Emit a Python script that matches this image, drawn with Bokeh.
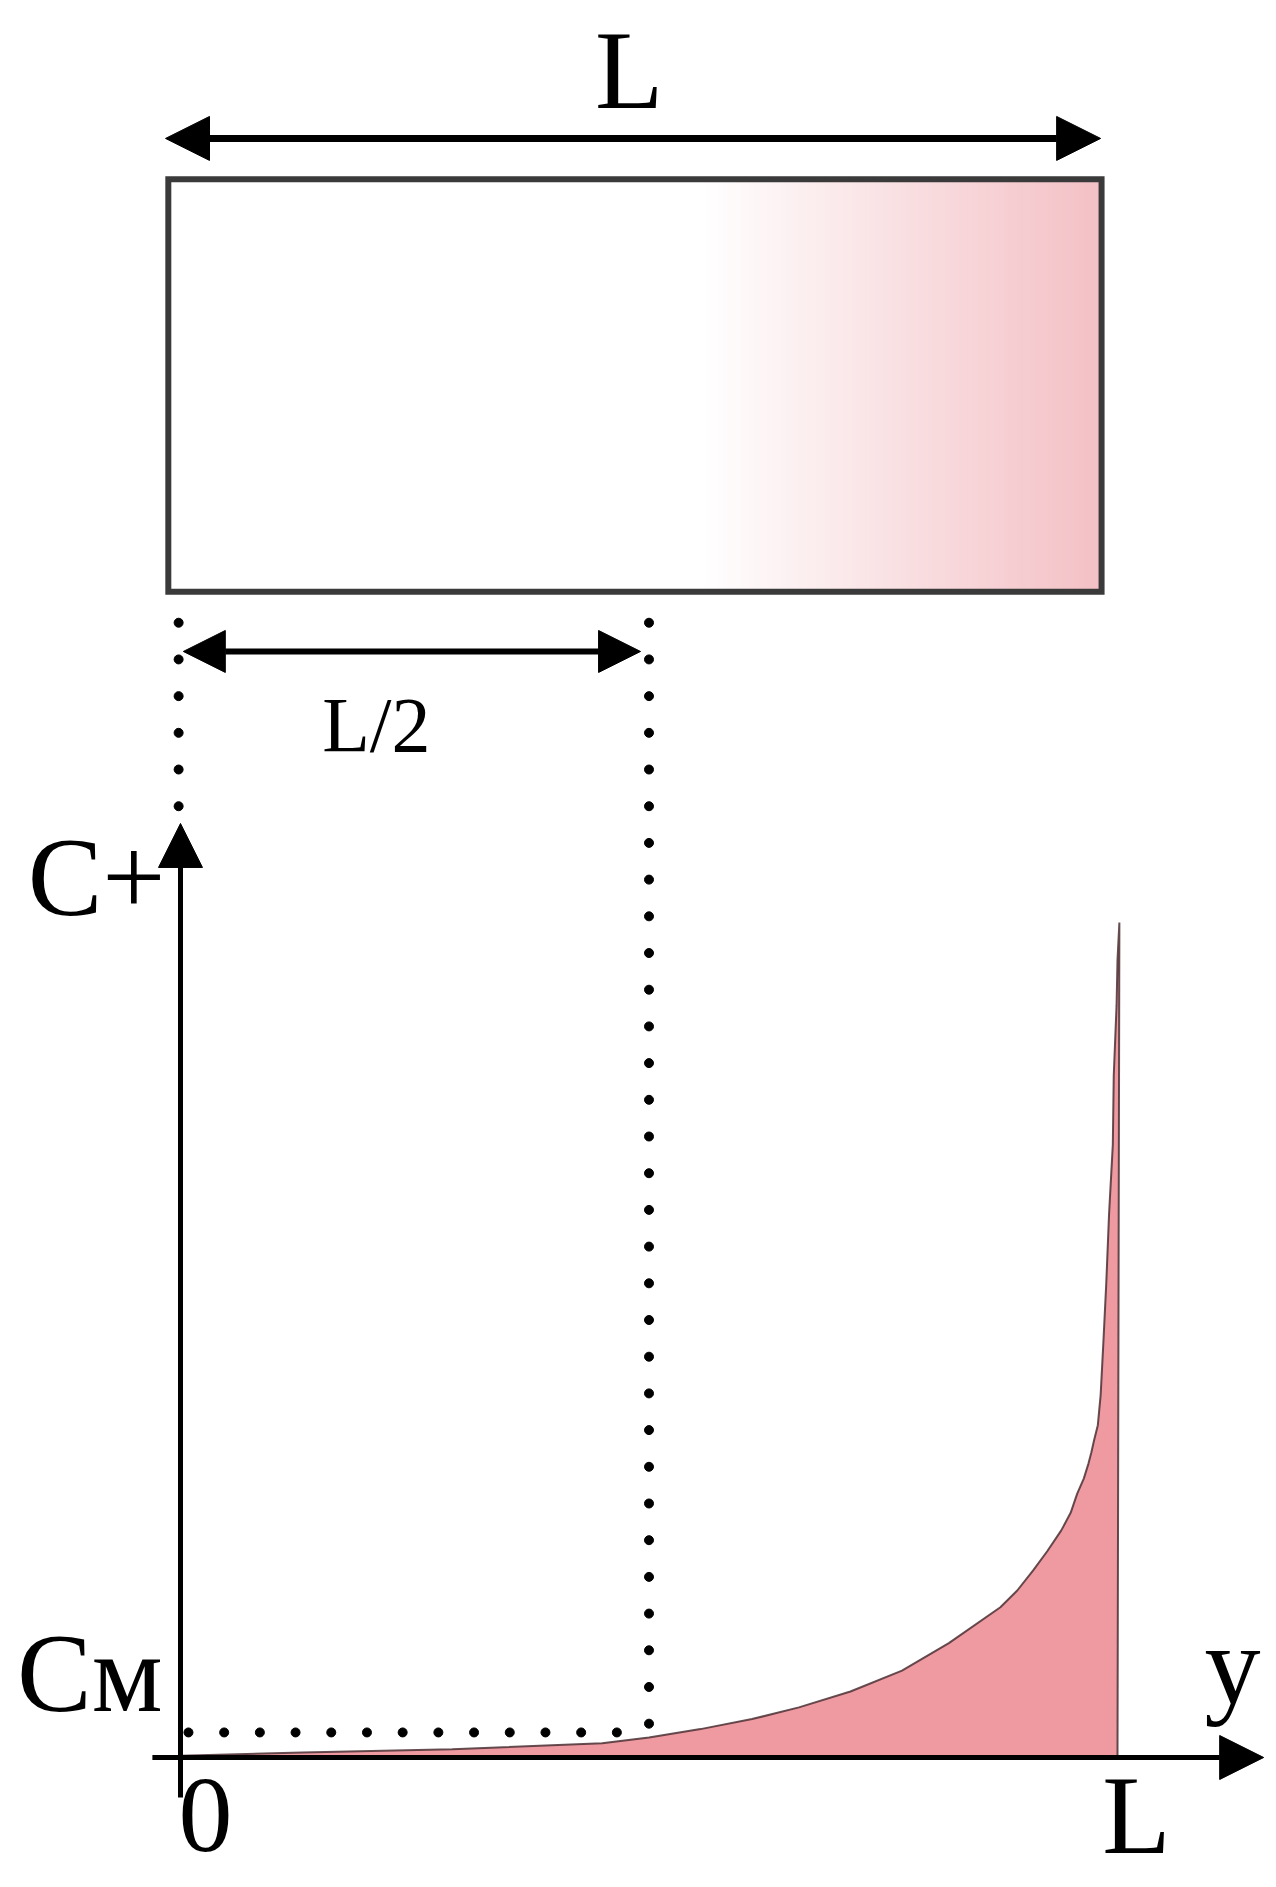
import numpy as np
from bokeh.plotting import figure
from bokeh.models import Arrow, NormalHead, Label, Range1d
from bokeh.embed import file_html
from bokeh.resources import INLINE

# ---- data: concentration profile C+(y), y in units of L, C relative to the peak ----
y_pos = [0.0, 0.13, 0.29, 0.45, 0.50, 0.555, 0.61, 0.66, 0.715, 0.77, 0.82,
         0.875, 0.893, 0.91, 0.925, 0.94, 0.95, 0.957, 0.964, 0.969, 0.972, 0.975,
         0.979, 0.982, 0.985, 0.988, 0.991, 0.995, 0.996, 0.999, 1.000, 1.002]
c_plus = [0.002, 0.006, 0.010, 0.017, 0.024, 0.034, 0.046, 0.060, 0.079, 0.104, 0.137,
          0.180, 0.200, 0.224, 0.247, 0.272, 0.293, 0.316, 0.334, 0.352, 0.365, 0.380,
          0.398, 0.434, 0.499, 0.568, 0.651, 0.734, 0.817, 0.901, 0.955, 1.0]
C_M = 0.03          # level Cм
L_VAL = 1.0         # membrane thickness L
HALF_L = 0.5        # L/2
tick_labels_x = ["0", "L"]
tick_labels_y = ["Cм", "C+"]
dim_labels = ["L", "L/2"]
axis_name = "y"

# ---- schematic geometry (in the same units) ----
RECT_L, RECT_R = -0.013, 0.983
RECT_B, RECT_T = 1.396, 1.890
GRAD_START = 0.555
TOP_ARROW_Y = 1.939
HALF_ARROW_Y = 1.3246
FONT = "Liberation Serif"
PX_PER_Y = 835.0

p = figure(width=1268, height=1879, x_range=Range1d(-0.19210, 1.16115),
           y_range=Range1d(-0.14611, 2.10419), output_backend="svg",
           toolbar_location=None, x_axis_location=None, y_axis_location=None,
           min_border=0, outline_line_color=None, background_fill_color="white",
           border_fill_color="white")
p.grid.visible = False

# gradient inside rectangle
n = 90
edges = np.linspace(GRAD_START, RECT_R, n + 1)
end_rgb = np.array([243, 192, 197])
cols = []
for i in range(n):
    t = (i + 0.5) / n
    c = (1 - t) * np.array([255, 255, 255]) + t * end_rgb
    cols.append("#%02x%02x%02x" % tuple(int(round(v)) for v in c))
p.quad(left=edges[:-1], right=edges[1:] + 0.002, bottom=RECT_B, top=RECT_T,
       fill_color=cols, line_color=None)
# rectangle outline
p.quad(left=[RECT_L], right=[RECT_R], bottom=[RECT_B], top=[RECT_T],
       fill_color=None, line_color="#3a3a3a", line_width=6, line_join="miter")

# top dimension arrow L
p.add_layout(Arrow(x_start=RECT_L - 0.003, y_start=TOP_ARROW_Y, x_end=RECT_R - 0.001,
                   y_end=TOP_ARROW_Y, line_width=7, line_color="black",
                   start=NormalHead(size=44, fill_color="black", line_color="black"),
                   end=NormalHead(size=44, fill_color="black", line_color="black")))
# L/2 arrow
p.add_layout(Arrow(x_start=0.003, y_start=HALF_ARROW_Y, x_end=HALF_L - 0.009,
                   y_end=HALF_ARROW_Y, line_width=6, line_color="black",
                   start=NormalHead(size=42, fill_color="black", line_color="black"),
                   end=NormalHead(size=42, fill_color="black", line_color="black")))

# dotted guide lines
dstep_v = 0.04395
v_right = np.arange(1.359, C_M, -dstep_v)
p.scatter(x=[HALF_L] * len(v_right), y=v_right, size=9, color="black", marker="circle")
v_left = np.arange(1.359, 1.13, -dstep_v)
p.scatter(x=[-0.002] * len(v_left), y=v_left, size=9, color="black", marker="circle")
h_dots = np.arange(0.0085, HALF_L - 0.02, 0.0381)
p.scatter(x=h_dots, y=[C_M] * len(h_dots), size=9, color="black", marker="circle")

# concentration profile
xs = list(y_pos) + [L_VAL, 0.0]
ys = list(c_plus) + [0.0, 0.0]
p.patch(xs, ys, fill_color="#ef99a1", line_color=None)
p.line(list(y_pos) + [L_VAL], list(c_plus) + [0.0], line_color="#4a3034",
       line_width=2, line_alpha=0.85)

# axes
p.add_layout(Arrow(x_start=0.0, y_start=-0.048, x_end=0.0, y_end=1.1186,
                   line_width=5, line_color="black",
                   end=NormalHead(size=44, fill_color="black", line_color="black")))
p.add_layout(Arrow(x_start=-0.030, y_start=0.0, x_end=1.156, y_end=0.0,
                   line_width=5, line_color="black",
                   end=NormalHead(size=44, fill_color="black", line_color="black")))

def lab(x, y, t, size, align="center"):
    # compensate the renderer's baseline placement (about 0.36 em low)
    yy = y + 0.36 * size / PX_PER_Y
    p.add_layout(Label(x=x, y=yy, text=t, text_font=FONT, text_font_size=f"{size}px",
                       text_align=align, text_baseline="alphabetic", text_color="black"))

lab((RECT_L + RECT_R) / 2 - 0.006, 1.9725, dim_labels[0], 112)
lab(0.209, 1.2036, dim_labels[1], 78)
lab(-0.016, 1.006, tick_labels_y[1], 112, "right")
lab(-0.019, 0.0527, tick_labels_y[0], 112, "right")
lab(1.1227, 0.0623, axis_name, 112)
lab(0.0267, -0.1165, tick_labels_x[0], 108)
lab(1.0203, -0.1174, tick_labels_x[1], 112)

open("out.html", "w").write(file_html(p, INLINE))
